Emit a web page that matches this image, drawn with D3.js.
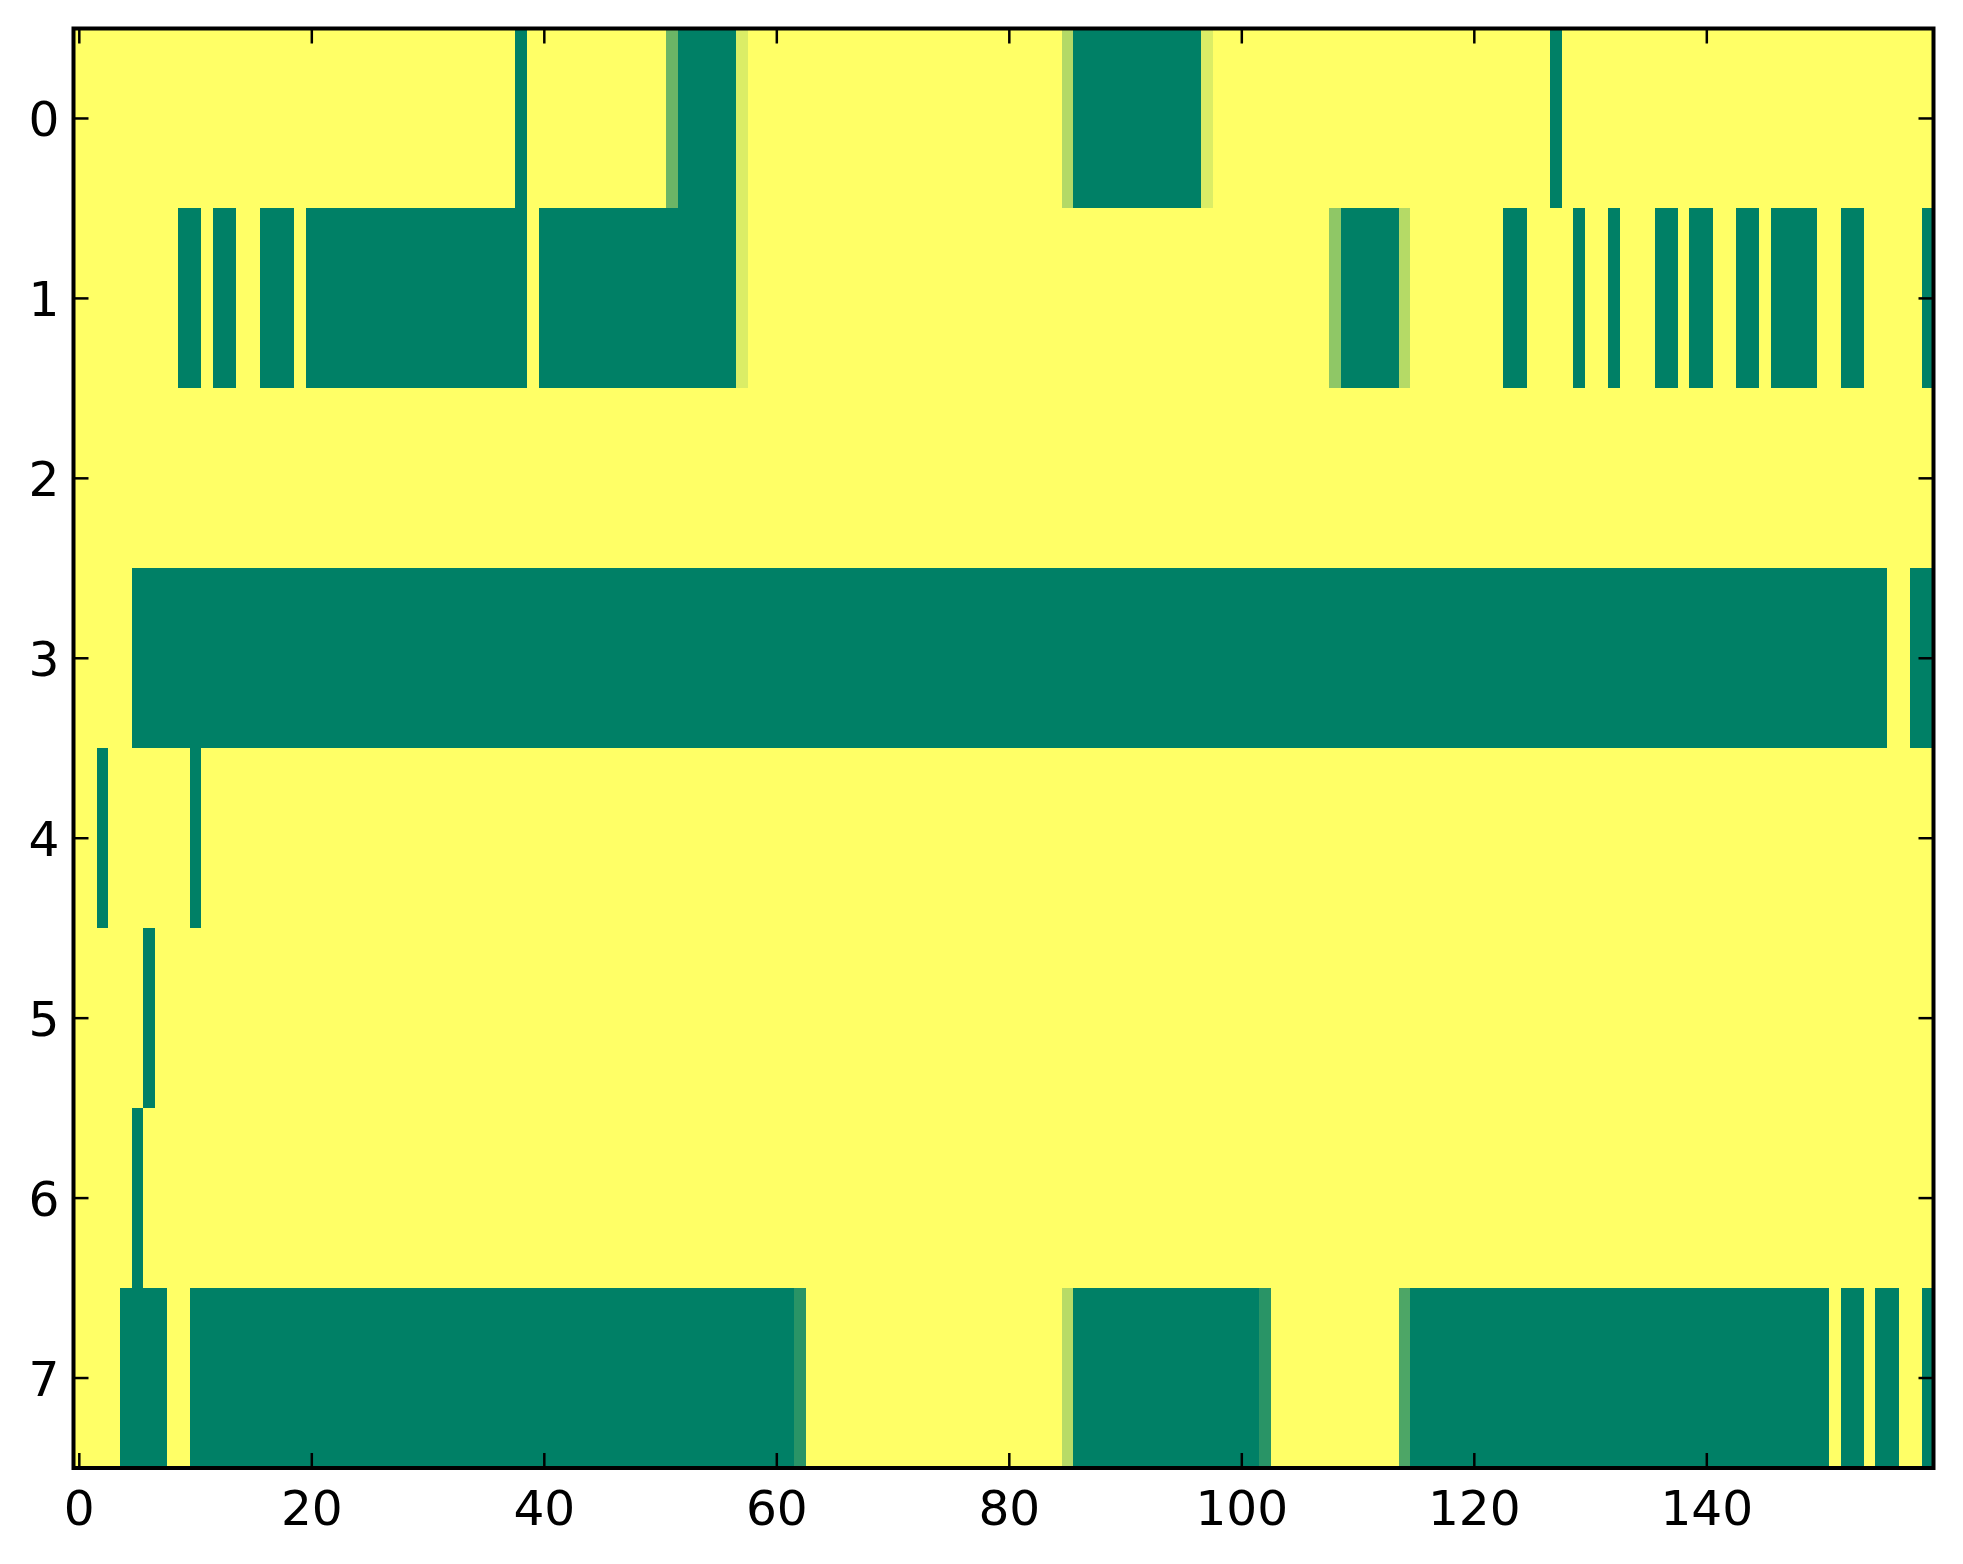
<!DOCTYPE html>
<html>
<head>
<meta charset="utf-8">
<script src="https://cdn.jsdelivr.net/npm/d3@7"></script>
<style>
  body { margin: 0; background: #fff; }
  text { font-family: "DejaVu Sans", sans-serif; }
</style>
</head>
<body>
<div id="canvas"></div>
<script>
// image size and axes box
var width = 1963;
var height = 1564;
var plotLeft = 73.5, plotRight = 1933.5, plotTop = 28.5, plotBottom = 1468;

// matrix shape: 8 rows x 160 columns, 1 = yellow, 0 = dark green
var nRows = 8;
var nCols = 160;

// dark (value 0) runs per row, [first col, last col]
var darkRuns = [
  [[38, 38], [52, 56], [86, 96], [127, 127]],
  [[9, 10], [12, 13], [16, 18], [20, 38], [40, 56], [109, 113], [123, 124], [129, 129],
   [132, 132], [136, 137], [139, 140], [143, 144], [146, 149], [152, 153], [159, 159]],
  [],
  [[5, 155], [158, 159]],
  [[2, 2], [10, 10]],
  [[6, 6]],
  [[5, 5]],
  [[4, 7], [10, 61], [86, 101], [115, 150], [152, 153], [155, 156], [159, 159]]
];

// cells with an in-between value: [row, col, value]
var partialCells = [
  [0, 51, 0.42], [0, 57, 0.86], [0, 85, 0.70], [0, 97, 0.86],
  [1, 57, 0.86], [1, 108, 0.56], [1, 114, 0.71],
  [7, 62, 0.16], [7, 85, 0.72], [7, 102, 0.16], [7, 114, 0.30]
];

var xTicks = [0, 20, 40, 60, 80, 100, 120, 140];
var yTicks = [0, 1, 2, 3, 4, 5, 6, 7];

// build the grid from the runs
var cells = [];
for (var r = 0; r < nRows; r++) {
  var row = new Array(nCols).fill(1);
  darkRuns[r].forEach(run => {
    for (var c = run[0]; c <= run[1]; c++) row[c] = 0;
  });
  partialCells.forEach(p => { if (p[0] == r) row[p[1]] = p[2]; });
  row.forEach((v, c) => cells.push({ row: r, col: c, value: v }));
}

var x = d3.scaleLinear().domain([-0.5, nCols - 0.5]).range([plotLeft, plotRight]);
var y = d3.scaleLinear().domain([-0.5, nRows - 0.5]).range([plotTop, plotBottom]);

// matplotlib "summer" colormap
var color = d3.scaleLinear().domain([0, 1]).range(["#008066", "#ffff66"]);

var svg = d3.select('#canvas')
  .append("svg")
  .attr("width", width)
  .attr("height", height);

svg.append("rect")
  .attr("width", width)
  .attr("height", height)
  .attr("fill", "#fff");

svg.append("g")
  .attr("shape-rendering", "crispEdges")
  .selectAll("rect")
  .data(cells)
  .enter()
  .append("rect")
  .attr("x", d => x(d.col - 0.5))
  .attr("y", d => y(d.row - 0.5))
  .attr("width", d => x(d.col + 0.5) - x(d.col - 0.5))
  .attr("height", d => y(d.row + 0.5) - y(d.row - 0.5))
  .attr("fill", d => color(d.value));

// inward ticks on all four sides
var tickLen = 15;
var ticks = svg.append("g")
  .attr("stroke", "#000")
  .attr("stroke-width", 2.5);

xTicks.forEach(t => {
  ticks.append("line").attr("x1", x(t)).attr("x2", x(t)).attr("y1", plotBottom).attr("y2", plotBottom - tickLen);
  ticks.append("line").attr("x1", x(t)).attr("x2", x(t)).attr("y1", plotTop).attr("y2", plotTop + tickLen);
});
yTicks.forEach(t => {
  ticks.append("line").attr("x1", plotLeft).attr("x2", plotLeft + tickLen).attr("y1", y(t)).attr("y2", y(t));
  ticks.append("line").attr("x1", plotRight).attr("x2", plotRight - tickLen).attr("y1", y(t)).attr("y2", y(t));
});

// frame
svg.append("rect")
  .attr("x", plotLeft)
  .attr("y", plotTop)
  .attr("width", plotRight - plotLeft)
  .attr("height", plotBottom - plotTop)
  .attr("fill", "none")
  .attr("stroke", "#000")
  .attr("stroke-width", 4);

// tick labels
svg.append("g")
  .selectAll("text")
  .data(xTicks)
  .enter()
  .append("text")
  .attr("x", d => x(d))
  .attr("y", plotBottom + 57)
  .attr("text-anchor", "middle")
  .attr("font-size", 48.6)
  .attr("fill", "#000")
  .text(d => d);

svg.append("g")
  .selectAll("text")
  .data(yTicks)
  .enter()
  .append("text")
  .attr("x", plotLeft - 14)
  .attr("y", d => y(d) + 17.7)
  .attr("text-anchor", "end")
  .attr("font-size", 48.6)
  .attr("fill", "#000")
  .text(d => d);
</script>
</body>
</html>
